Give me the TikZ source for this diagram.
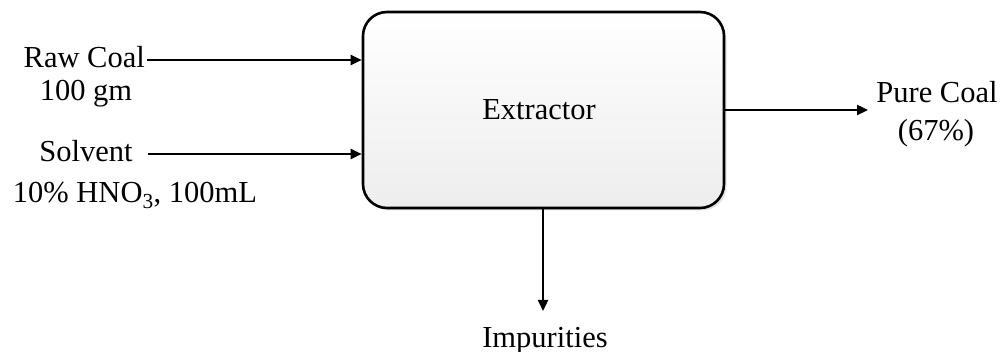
\documentclass[tikz,border=0pt]{standalone}
\usepackage{fontspec}
\setmainfont{Liberation Serif}
\usetikzlibrary{arrows.meta,shadows}
\begin{document}
\begin{tikzpicture}[x=1pt,y=-1pt,
  lbl/.style={inner sep=0pt,anchor=base,font=\fontsize{30.5}{31}\selectfont},
  flow/.style={line width=2.3pt,-{Triangle[length=11pt,width=10pt]}},
  unit/.style={draw=black,line width=2.6pt,rounded corners=24pt,
    top color=white,bottom color=black!7,
    drop shadow={opacity=0.22,shadow xshift=2.5pt,shadow yshift=-2.5pt}}]
\path[use as bounding box,fill=white] (0,0) rectangle (1003,352);
% extractor box
\node[unit,minimum width=361pt,minimum height=196pt,inner sep=0pt] (box) at (543.5,110) {};
\node[lbl] (ext) at (539,120) {Extractor};
% labels
\node[lbl,anchor=base east] (raw) at (145,68) {Raw Coal};
\node[lbl] (rawq) at (86,100.5) {100 gm};
\node[lbl] (solv) at (86,162) {Solvent};
\node[lbl] (solvq) at (135,203) {10\% HNO\textsubscript{3}, 100mL};
\node[lbl] (pure) at (937,103) {Pure Coal};
\node[lbl] (pureq) at (936,141) {(67\%)};
\node[lbl] (imp) at (545,347) {Impurities};
% connectors
\coordinate (a1) at (147,60);
\coordinate (a2) at (148,154);
\coordinate (a3) at (868,110);
\coordinate (a4) at (543,311);
\draw[flow] (a1) -- (box.west |- a1);
\draw[flow] (a2) -- (box.west |- a2);
\draw[flow] (box.east |- a3) -- (a3);
\draw[flow] (box.south -| a4) -- (a4);
\end{tikzpicture}
\end{document}
